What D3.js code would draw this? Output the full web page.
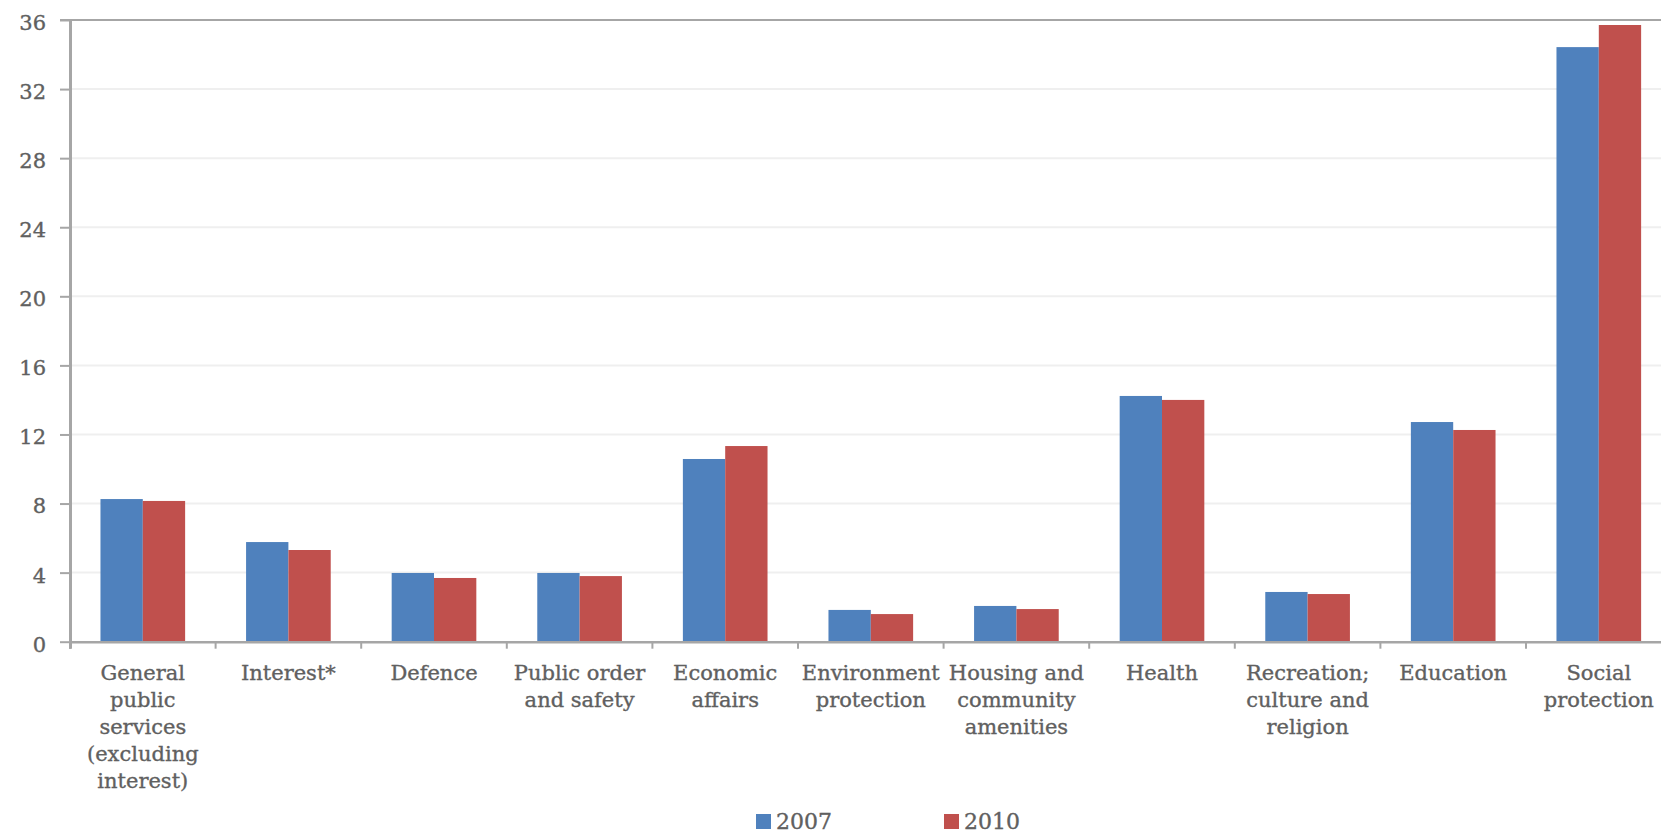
<!DOCTYPE html>
<html>
<head>
<meta charset="utf-8">
<script src="https://cdn.jsdelivr.net/npm/d3@7"></script>
<style>
  html, body { margin: 0; padding: 0; background: #fff; overflow: hidden; }
  svg { display: block; }
  text { font-family: "DejaVu Serif", Georgia, serif; fill: #606060; stroke: #606060; stroke-width: 0.35px; }
</style>
</head>
<body>
<svg id="chart" width="1661" height="836"></svg>
<script>
// Spending by function, share of total (%)
const categories = [
  "General\npublic\nservices\n(excluding\ninterest)",
  "Interest*",
  "Defence",
  "Public order\nand safety",
  "Economic\naffairs",
  "Environment\nprotection",
  "Housing and\ncommunity\namenities",
  "Health",
  "Recreation;\nculture and\nreligion",
  "Education",
  "Social\nprotection"
];
const seriesNames = ["2007", "2010"];
const values2007 = [8.26, 5.77, 3.98, 3.98, 10.58, 1.84, 2.07, 14.23, 2.88, 12.72, 34.43];
const values2010 = [8.15, 5.31, 3.69, 3.80, 11.33, 1.60, 1.89, 14.00, 2.76, 12.26, 35.71];
const yTicks = [0, 4, 8, 12, 16, 20, 24, 28, 32, 36];
const colors = ["#4F81BD", "#C0504D"];

const seriesValues = [values2007, values2010];
const rows = categories.map((c, i) => ({
  category: c,
  values: seriesNames.map((s, j) => ({ series: s, value: seriesValues[j][i] }))
}));

const svg = d3.select("#chart");
const plotLeft = 70, plotTop = 20, plotBottom = 641.7;
const step = 145.6;
const plotRight = plotLeft + step * categories.length;

const x0 = d3.scaleBand().domain(categories).range([plotLeft, plotRight]).paddingInner(0).paddingOuter(0);
const x1 = d3.scaleBand().domain(seriesNames).range([0, x0.bandwidth()]).paddingInner(0).paddingOuter(0.72);
const y = d3.scaleLinear().domain([0, 36]).range([plotBottom, plotTop]);
const color = d3.scaleOrdinal().domain(seriesNames).range(colors);

// horizontal gridlines
svg.append("g")
  .selectAll("line")
  .data(yTicks.filter(t => t > 0 && t < 36))
  .join("line")
  .attr("x1", plotLeft).attr("x2", plotRight)
  .attr("y1", d => y(d)).attr("y2", d => y(d))
  .attr("stroke", "#EFEFEF").attr("stroke-width", 2);

// top border of the plot
svg.append("line")
  .attr("x1", plotLeft - 10).attr("x2", plotRight)
  .attr("y1", y(36)).attr("y2", y(36))
  .attr("stroke", "#A6A6A6").attr("stroke-width", 2);

// bars
svg.append("g")
  .selectAll("g")
  .data(rows)
  .join("g")
  .attr("transform", d => `translate(${x0(d.category)},0)`)
  .selectAll("rect")
  .data(d => d.values)
  .join("rect")
  .attr("x", d => x1(d.series))
  .attr("width", x1.bandwidth())
  .attr("y", d => y(d.value))
  .attr("height", d => y(0) - y(d.value))
  .attr("fill", d => color(d.series));

// y axis
const yAxis = svg.append("g")
  .attr("transform", `translate(${plotLeft},0)`)
  .call(d3.axisLeft(y).tickValues(yTicks).tickSize(10).tickPadding(14).tickFormat(d3.format("d")));
yAxis.select(".domain").attr("stroke", "#A6A6A6").attr("stroke-width", 3)
  .attr("d", `M0.5,${plotTop}V${plotBottom + 7}`);
yAxis.selectAll(".tick line").attr("stroke", "#A6A6A6").attr("stroke-width", 2);
yAxis.selectAll(".tick text")
  .attr("fill", "#606060")
  .style("font-size", "21px")
  .attr("dy", "0.45em");

// x axis
const xAxis = svg.append("g")
  .attr("transform", `translate(0,${plotBottom})`)
  .call(d3.axisBottom(x0).tickSize(0).tickFormat(""));
xAxis.select(".domain").attr("stroke", "#A6A6A6").attr("stroke-width", 2.5)
  .attr("d", `M${plotLeft},0.5H${plotRight}`);

// category separators
svg.append("g")
  .selectAll("line")
  .data(d3.range(categories.length + 1))
  .join("line")
  .attr("x1", i => plotLeft + i * x0.step()).attr("x2", i => plotLeft + i * x0.step())
  .attr("y1", plotBottom).attr("y2", plotBottom + 7)
  .attr("stroke", "#A6A6A6").attr("stroke-width", 2);

// category labels
const labels = svg.append("g")
  .selectAll("text")
  .data(categories)
  .join("text")
  .attr("text-anchor", "middle")
  .attr("x", d => x0(d) + x0.bandwidth() / 2)
  .attr("y", plotBottom + 38)
  .style("font-size", "21px");
labels.selectAll("tspan")
  .data(d => d.split("\n").map(line => ({ line, x: x0(d) + x0.bandwidth() / 2 })))
  .join("tspan")
  .attr("x", d => d.x)
  .attr("dy", (d, i) => i === 0 ? 0 : 27)
  .text(d => d.line);

// legend
const legendX = [756, 944];
const legend = svg.append("g")
  .selectAll("g")
  .data(seriesNames)
  .join("g")
  .attr("transform", (d, i) => `translate(${legendX[i]},814)`);
legend.append("rect")
  .attr("width", 15).attr("height", 15)
  .attr("fill", d => color(d));
legend.append("text")
  .attr("x", 20).attr("y", 15)
  .style("font-size", "22px")
  .text(d => d);
</script>
</body>
</html>
